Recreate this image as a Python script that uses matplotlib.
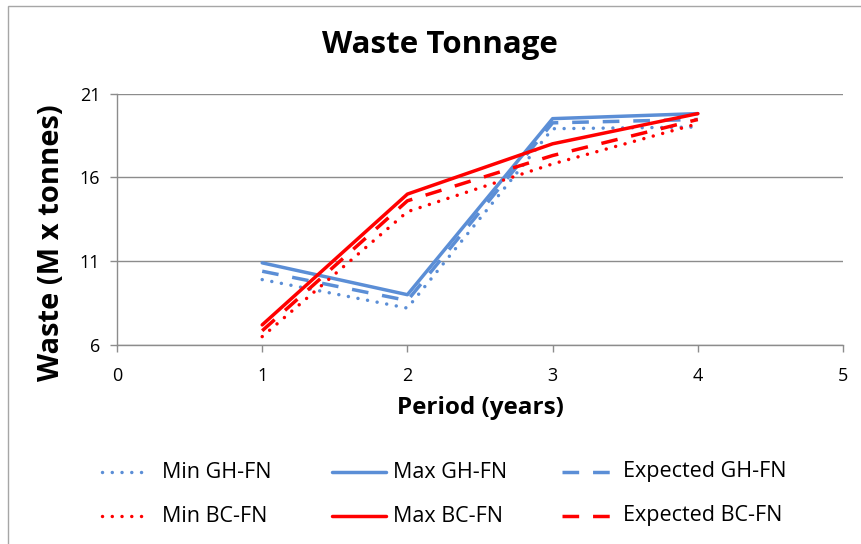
import matplotlib
matplotlib.use("Agg")
import matplotlib.pyplot as plt
from matplotlib.lines import Line2D
from matplotlib.patches import Rectangle

plt.rcParams['font.family'] = ['Open Sans', 'DejaVu Sans']

# Waste tonnage per period for each scenario
periods = [1, 2, 3, 4]
min_gh = [9.9, 8.2, 18.9, 19.0]
max_gh = [10.9, 9.0, 19.5, 19.8]
exp_gh = [10.4, 8.65, 19.25, 19.45]
min_bc = [6.5, 13.95, 16.8, 19.2]
max_bc = [7.2, 15.0, 18.0, 19.8]
exp_bc = [6.85, 14.6, 17.3, 19.45]

labels = ["Min GH-FN", "Max GH-FN", "Expected GH-FN",
          "Min BC-FN", "Max BC-FN", "Expected BC-FN"]
x_ticks = [0, 1, 2, 3, 4, 5]
y_ticks = [6, 11, 16, 21]

BLUE = "#5B8ED6"
RED = "#FF0000"
GRID = "#8C8C8C"
LW = 2.5
DOT = (0, (0.01, 2.8))
DASH = (0, (4.8, 4.0))

W, H = 861, 544
fig = plt.figure(figsize=(W / 100, H / 100), dpi=100)

# outer chart frame
fig.patches.append(Rectangle((8 / W, -0.1), 1.2, (H - 6) / H + 0.1,
                             transform=fig.transFigure, fill=False,
                             edgecolor="#A6A6A6", linewidth=1.0))

ax = fig.add_axes([117 / W, (H - 345) / H, (843 - 117) / W, (345 - 93.5) / H])

styles = [
    (min_gh, BLUE, DOT, "round"),
    (max_gh, BLUE, "-", "round"),
    (exp_gh, BLUE, DASH, "butt"),
    (min_bc, RED, DOT, "round"),
    (max_bc, RED, "-", "round"),
    (exp_bc, RED, DASH, "butt"),
]
for vals, col, ls, cap in styles:
    ax.plot(periods, vals, color=col, linestyle=ls, linewidth=LW,
            dash_capstyle=cap, solid_capstyle=cap, solid_joinstyle="round")

ax.set_xlim(0, 5)
ax.set_ylim(6, 21)
ax.set_xticks(x_ticks)
ax.set_yticks(y_ticks)
ax.yaxis.grid(True, color=GRID, linewidth=1.0)
ax.set_axisbelow(True)
for s in ["top", "right"]:
    ax.spines[s].set_visible(False)
for s in ["left", "bottom"]:
    ax.spines[s].set_color(GRID)
    ax.spines[s].set_linewidth(1.0)
ax.tick_params(axis="both", colors=GRID, length=5, width=1.0,
               labelcolor="black", labelsize=13)
ax.tick_params(axis="x", pad=11)
ax.tick_params(axis="y", pad=7)

fig.text(440 / W, 1 - 45 / H, "Waste Tonnage", ha="center", va="center",
         fontsize=22.5, fontweight="bold")
fig.text(480 / W, 1 - 408 / H, "Period (years)", ha="center", va="center",
         fontsize=17.5, fontweight="bold")
fig.text(52 / W, 1 - 243 / H, "Waste (M x tonnes)", ha="center", va="center",
         rotation=90, fontsize=21, fontweight="bold")

# legend drawn as a 3 x 2 grid of handle + label
handle_spans = [(102, 150), (332, 386), (562, 610)]
text_x = [162, 393, 623]
rows_y = [472, 516]
for i, (lab, (vals, col, ls, cap)) in enumerate(zip(labels, styles)):
    r, c = divmod(i, 3)
    x0, x1 = handle_spans[c]
    y = 1 - rows_y[r] / H
    fig.add_artist(Line2D([x0 / W, x1 / W], [y, y], transform=fig.transFigure,
                          color=col, linestyle=ls, linewidth=LW,
                          dash_capstyle=cap, solid_capstyle=cap))
    fig.text(text_x[c] / W, y, lab, ha="left", va="center", fontsize=15.5)

fig.savefig("out.png", dpi=100)
